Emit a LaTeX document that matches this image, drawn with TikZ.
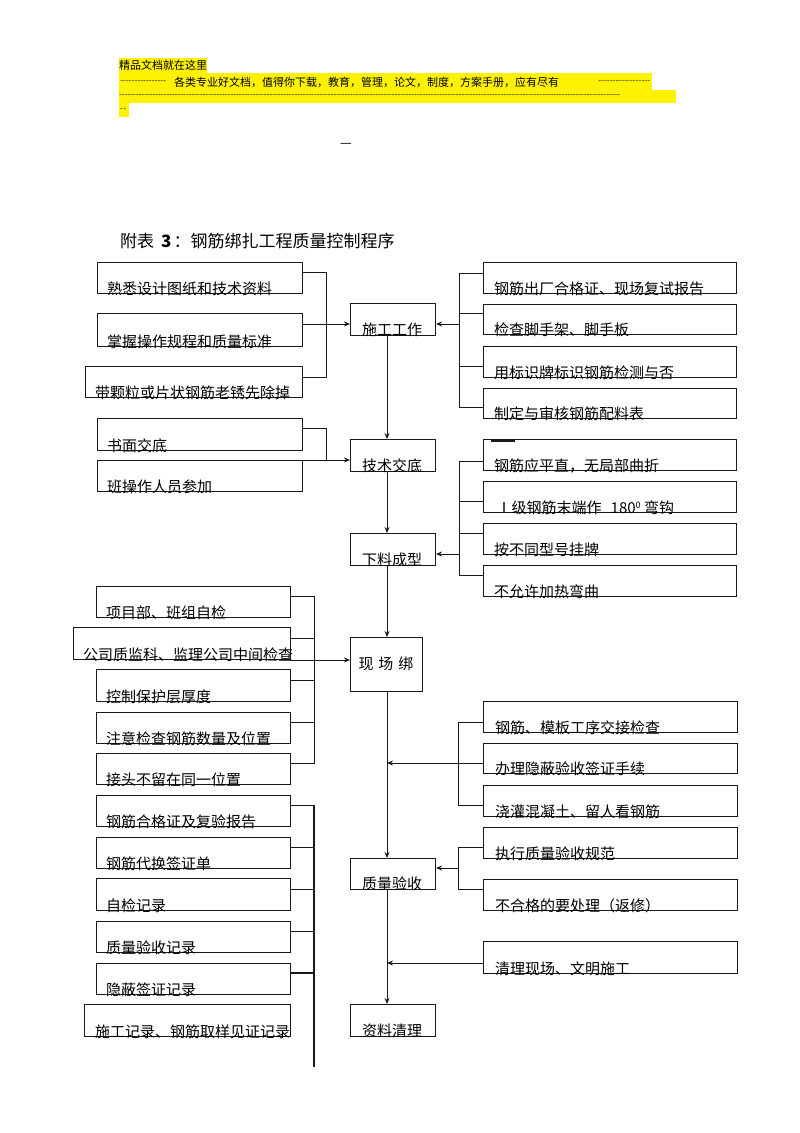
\documentclass[tikz,border=0pt]{standalone}
\usepackage{fontspec}
\setmainfont{Noto Sans CJK SC}
\usetikzlibrary{arrows.meta}
\newcommand\mybox[7]{%
  \node[box, minimum width=#4pt-#2pt, minimum height=#5pt-#3pt] (#1) at (#2,#3) {};
  \node[lbl] (#1t) at (#6,#5-4) {#7};}
\newcommand\mymid[6]{%
  \node[box, minimum width=#4pt-#2pt, minimum height=#5pt-#3pt] (#1) at (#2,#3) {};
  \node[clbl] (#1t) at (392,#5-5) {#6};}
\newcommand\dashfill[1]{\hbox to #1{\xleaders\hbox{-}\hfill}}
\begin{document}
\begin{tikzpicture}[x=1pt,y=-1pt,
  box/.style={draw=black!90, line width=1pt, inner sep=0pt, anchor=north west},
  lbl/.style={inner sep=0pt, anchor=west, font=\fontsize{15}{16}\selectfont},
  clbl/.style={inner sep=0pt, anchor=center, font=\fontsize{15}{16}\selectfont},
  conn/.style={draw=black!90, line width=1pt},
  arr/.style={conn, -{Stealth[length=6pt,width=5pt]}},
  hdr/.style={inner sep=0pt, anchor=west, font=\fontsize{11}{12}\selectfont},
  dsh/.style={inner sep=0pt, anchor=west, font=\fontsize{8}{9}\selectfont},
  hl/.style={fill=yellow, draw=none}
]
\useasboundingbox (0,0) rectangle (800,1133);
% header highlight
\fill[hl] (119,58) rectangle (207,73);
\fill[hl] (119,73) rectangle (652,90);
\fill[hl] (119,90) rectangle (676,103);
\fill[hl] (119,103) rectangle (129,117);
\node[hdr] (h1) at (119,65.5) {精品文档就在这里};
\node[dsh] (h2a) at (120,82) {\dashfill{46pt}};
\node[hdr] (h2) at (174,82) {各类专业好文档，值得你下载，教育，管理，论文，制度，方案手册，应有尽有};
\node[dsh] (h2b) at (598,82) {\dashfill{52pt}};
\node[dsh] (h3) at (119,96) {\dashfill{501pt}};
\node[dsh] (h4) at (119,110) {\dashfill{8pt}};
\node[inner sep=0pt, font=\fontsize{13}{14}\selectfont] (dash) at (346,145) {—};
% title
\node[inner sep=0pt, anchor=west, font=\fontsize{17}{18}\selectfont] (title) at (120,241)
  {附表\hspace{7pt}\textbf{3}\hspace{2pt}：钢筋绑扎工程质量控制程序};

% centre column
\mymid{c1}{350}{303}{435}{335}{施工工作}
\mymid{c2}{350}{439}{435}{471}{技术交底}
\mymid{c3}{350}{533}{435}{565}{下料成型}
\node[box, minimum width=72pt, minimum height=54pt] (c4) at (350,637) {};
\node[clbl] (c4t) at (386,664) {现\hspace{5pt}场\hspace{5pt}绑};
\mymid{c5}{350}{858}{435}{889}{质量验收}
\mymid{c6}{350}{1004}{435}{1036}{资料清理}
\coordinate (cx) at (387,0);
\draw[arr] (c1.south -| cx) -- (c2.north -| cx);
\draw[arr] (c2.south -| cx) -- (c3.north -| cx);
\draw[arr] (c3.south -| cx) -- (c4.north -| cx);
\draw[arr] (c4.south -| cx) -- (c5.north -| cx);
\draw[arr] (c5.south -| cx) -- (c6.north -| cx);

% left group 1
\mybox{l1}{97}{262}{302}{293}{107}{熟悉设计图纸和技术资料}
\mybox{l2}{97}{313}{302}{346}{107}{掌握操作规程和质量标准}
\mybox{l3}{85}{366}{302}{397}{95}{带颗粒或片状钢筋老锈先除掉}
\coordinate (ja) at (326,272);
\coordinate (jb) at (326,377);
\coordinate (ya) at (0,324);
\draw[conn] (l1.east |- ja) -- (ja) -- (jb) -- (l3.east |- jb);
\draw[arr] (l2.east |- ya) -- (c1.west |- ya);

% left group 2
\mybox{l4}{97}{418}{302}{450}{107}{书面交底}
\mybox{l5}{97}{460}{302}{491}{107}{班操作人员参加}
\coordinate (jc) at (326,428);
\draw[conn] (l4.east |- jc) -- (jc) -- (jc |- l5.north east);
\draw[arr] (l5.north east) -- (c2.west |- l5.north east);

% right group 1
\mybox{r1}{483}{262}{736}{293}{494}{钢筋出厂合格证、现场复试报告}
\mybox{r2}{483}{304}{736}{334}{494}{检查脚手架、脚手板}
\mybox{r3}{483}{346}{736}{377}{494}{用标识牌标识钢筋检测与否}
\mybox{r4}{483}{388}{736}{418}{494}{制定与审核钢筋配料表}
\coordinate (ka) at (459,273);
\coordinate (kb) at (459,313);
\coordinate (kc) at (459,366);
\coordinate (kd) at (459,407);
\coordinate (ke) at (459,324);
\draw[conn] (r1.west |- ka) -- (ka) -- (kd) -- (r4.west |- kd);
\draw[conn] (kb) -- (r2.west |- kb);
\draw[conn] (kc) -- (r3.west |- kc);
\draw[arr] (ke) -- (c1.east |- ke);

% right group 2
\mybox{r5}{483}{439}{736}{470}{494}{钢筋应平直，无局部曲折}
\mybox{r6}{483}{481}{736}{512}{494}{\,Ⅰ级钢筋末端作\hspace{9pt}180\textsuperscript{\fontsize{9}{9}\selectfont 0}\hspace{3pt}弯钩}
\mybox{r7}{483}{523}{736}{554}{494}{按不同型号挂牌}
\mybox{r8}{483}{565}{736}{596}{494}{不允许加热弯曲}
\draw[line width=2.2pt, black!90] (491,441) -- (515,441);
\coordinate (ma) at (459,461);
\coordinate (mb) at (459,501);
\coordinate (mc) at (459,533);
\coordinate (md) at (459,575);
\coordinate (me) at (459,554);
\draw[conn] (r5.west |- ma) -- (ma) -- (md) -- (r8.west |- md);
\draw[conn] (mb) -- (r6.west |- mb);
\draw[conn] (mc) -- (r7.west |- mc);
\draw[arr] (me) -- (c3.east |- me);

% left group 3
\mybox{l6}{96}{586}{290}{617}{106}{项目部、班组自检}
\mybox{l7}{73}{627}{290}{659}{83}{公司质监科、监理公司中间检查}
\mybox{l8}{96}{669}{290}{701}{106}{控制保护层厚度}
\mybox{l9}{96}{712}{290}{743}{106}{注意检查钢筋数量及位置}
\mybox{l10}{96}{753}{290}{784}{106}{接头不留在同一位置}
\coordinate (na) at (314,596);
\coordinate (nb) at (314,638);
\coordinate (nc) at (314,680);
\coordinate (nd) at (314,722);
\coordinate (ne) at (314,763);
\draw[conn] (l6.east |- na) -- (na) -- (ne) -- (l10.east |- ne);
\draw[conn] (l7.east |- nb) -- (nb);
\draw[conn] (l8.east |- nc) -- (nc);
\draw[conn] (l9.east |- nd) -- (nd);
\draw[arr] (l7.south east) -- (c4.west |- l7.south east);

% left group 4
\mybox{l11}{96}{795}{290}{826}{106}{钢筋合格证及复验报告}
\mybox{l12}{96}{837}{290}{868}{106}{钢筋代换签证单}
\mybox{l13}{96}{878}{290}{910}{106}{自检记录}
\mybox{l14}{96}{921}{290}{952}{106}{质量验收记录}
\mybox{l15}{96}{963}{290}{994}{106}{隐蔽签证记录}
\mybox{l16}{84}{1004}{290}{1036}{95}{施工记录、钢筋取样见证记录}
\coordinate (pa) at (314,805);
\coordinate (pb) at (314,847);
\coordinate (pc) at (314,889);
\coordinate (pd) at (314,931);
\coordinate (pe) at (314,973);
\coordinate (pf) at (314,1067);
\draw[conn, line width=2pt] (pa) -- (pf);
\draw[conn] (l11.east |- pa) -- (pa);
\draw[conn] (l12.east |- pb) -- (pb);
\draw[conn] (l13.east |- pc) -- (pc);
\draw[conn] (l14.east |- pd) -- (pd);
\draw[conn, line width=2pt] (l15.east |- pe) -- (pe);

% right group 3
\mybox{r9}{483}{701}{737}{732}{495}{钢筋、模板工序交接检查}
\mybox{r10}{483}{743}{737}{773}{495}{办理隐蔽验收签证手续}
\mybox{r11}{483}{785}{737}{816}{495}{浇灌混凝土、留人看钢筋}
\coordinate (qa) at (458,722);
\coordinate (qb) at (458,763);
\coordinate (qc) at (458,805);
\draw[conn] (r9.west |- qa) -- (qa) -- (qc) -- (r11.west |- qc);
\draw[arr] (r10.west |- qb) -- (cx |- qb);

% right group 4
\mybox{r12}{483}{827}{737}{858}{495}{执行质量验收规范}
\mybox{r13}{483}{879}{737}{910}{495}{不合格的要处理（返修）}
\coordinate (sa) at (458,847);
\coordinate (sb) at (458,889);
\coordinate (sc) at (458,868);
\draw[conn] (r12.west |- sa) -- (sa) -- (sb) -- (r13.west |- sb);
\draw[arr] (sc) -- (c5.east |- sc);

% right group 5
\mybox{r14}{483}{941}{737}{973}{495}{清理现场、文明施工}
\coordinate (ta) at (0,963);
\draw[arr] (r14.west |- ta) -- (cx |- ta);
\end{tikzpicture}
\end{document}
